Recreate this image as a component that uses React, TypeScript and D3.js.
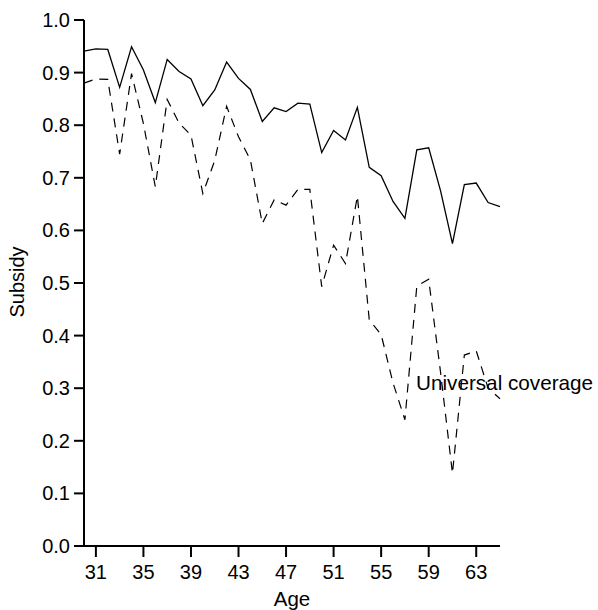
import React from "react";
import * as d3 from "d3";

const ages = [30, 31, 32, 33, 34, 35, 36, 37, 38, 39, 40, 41, 42, 43, 44, 45, 46, 47, 48, 49, 50, 51, 52, 53, 54, 55, 56, 57, 58, 59, 60, 61, 62, 63, 64, 65];

const solidSeries = [0.941, 0.945, 0.944, 0.872, 0.949, 0.905, 0.843, 0.925, 0.902, 0.888, 0.837, 0.867, 0.920, 0.889, 0.868, 0.807, 0.833, 0.826, 0.842, 0.840, 0.748, 0.790, 0.772, 0.834, 0.720, 0.704, 0.655, 0.623, 0.753, 0.757, 0.675, 0.575, 0.687, 0.690, 0.653, 0.645];

const universalSeries = [0.880, 0.888, 0.887, 0.745, 0.898, 0.803, 0.683, 0.849, 0.804, 0.781, 0.670, 0.733, 0.836, 0.778, 0.734, 0.613, 0.658, 0.648, 0.678, 0.678, 0.493, 0.572, 0.537, 0.665, 0.430, 0.402, 0.310, 0.240, 0.494, 0.507, 0.330, 0.138, 0.363, 0.371, 0.300, 0.280];

const xTicks = [31, 35, 39, 43, 47, 51, 55, 59, 63];
const yTicks = [0, 0.1, 0.2, 0.3, 0.4, 0.5, 0.6, 0.7, 0.8, 0.9, 1.0];

const seriesLabel = "Universal coverage";
const xLabel = "Age";
const yLabel = "Subsidy";

export default function App() {
  const W = 598, H = 610;
  const left = 84, right = 500, top = 20, bottom = 546;
  const x = d3.scaleLinear().domain([30, 65]).range([left, right]);
  const y = d3.scaleLinear().domain([0, 1]).range([bottom, top]);
  const line = d3.line<number>().x((_, i) => x(ages[i])).y((d) => y(d));
  const font = "'Liberation Sans', Arial, Helvetica, sans-serif";
  const fs = 20;
  return (
    <svg width={W} height={H} style={{ position: "absolute", left: 0, top: 0, background: "#fff" }} fontFamily={font}>
      <path d={line(solidSeries) || ""} fill="none" stroke="#000" strokeWidth={1.3} />
      <path d={line(universalSeries) || ""} fill="none" stroke="#000" strokeWidth={1.2} strokeDasharray="9,7" />
      <line x1={left} x2={left} y1={top} y2={bottom} stroke="#000" strokeWidth={2} />
      <line x1={left - 10} x2={right} y1={bottom} y2={bottom} stroke="#000" strokeWidth={2} />
      {yTicks.map((t) => (
        <g key={"y" + t}>
          <line x1={left - 10} x2={left} y1={y(t)} y2={y(t)} stroke="#000" strokeWidth={2} />
          <text x={left - 14} y={y(t)} dy="0.35em" textAnchor="end" fontSize={fs}>{t.toFixed(1)}</text>
        </g>
      ))}
      {xTicks.map((t) => (
        <g key={"x" + t}>
          <line x1={x(t)} x2={x(t)} y1={bottom} y2={bottom + 11} stroke="#000" strokeWidth={2} />
          <text x={x(t)} y={bottom + 33} textAnchor="middle" fontSize={fs}>{t}</text>
        </g>
      ))}
      <text x={(left + right) / 2} y={606} textAnchor="middle" fontSize={20.5}>{xLabel}</text>
      <text transform={`translate(24,282) rotate(-90)`} textAnchor="middle" fontSize={fs}>{yLabel}</text>
      <text x={416} y={390} fontSize={20.7}>{seriesLabel}</text>
    </svg>
  );
}
